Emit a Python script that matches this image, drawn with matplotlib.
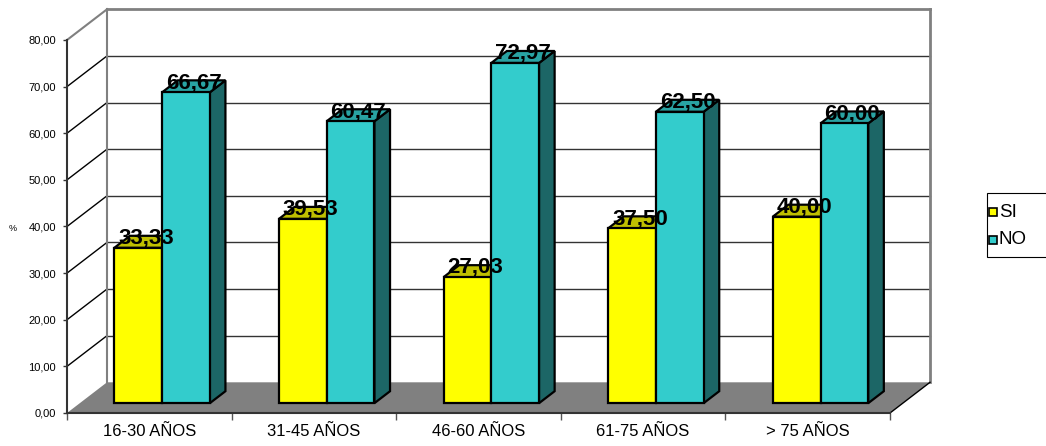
import matplotlib
matplotlib.use('Agg')
import matplotlib.pyplot as plt
from matplotlib.patches import Polygon, Rectangle

plt.rcParams['font.family'] = ['Liberation Sans', 'DejaVu Sans']

categories = ['16-30 AÑOS', '31-45 AÑOS', '46-60 AÑOS', '61-75 AÑOS', '> 75 AÑOS']
si = [33.33, 39.53, 27.03, 37.50, 40.00]
no = [66.67, 60.47, 72.97, 62.50, 60.00]
yticks = [0, 10, 20, 30, 40, 50, 60, 70, 80]

W, H = 1046, 446
fig = plt.figure(figsize=(W / 100, H / 100), dpi=100)
ax = fig.add_axes([67 / W, 33 / H, 823 / W, 373 / H])
ax.set_xlim(0, 5)
ax.set_ylim(0, 80)

# oblique depth vector in data units (40 px right, 30.7 px up)
DX = 40 / 164.6
DY = 30.7 / 4.6625
f = 0.32      # front of bars, fraction of depth
b = 0.39      # bar depth, fraction of depth
w = 0.29      # bar width

# back wall gridlines + left wall diagonals
for v in yticks[1:-1]:
    ax.plot([DX, 5 + DX], [v + DY, v + DY], color='#333333', lw=1, clip_on=False, zorder=1)
    ax.plot([0, DX], [v, v + DY], color='black', lw=1, clip_on=False, zorder=1)
ax.plot([DX, 5 + DX], [80 + DY, 80 + DY], color='#808080', lw=2, clip_on=False, zorder=1)
ax.plot([0, DX], [80, 80 + DY], color='#808080', lw=1.5, clip_on=False, zorder=1)
ax.plot([DX, DX], [DY, 80 + DY], color='#808080', lw=1.5, clip_on=False, zorder=1)
ax.plot([5 + DX, 5 + DX], [DY, 80 + DY], color='#808080', lw=2, clip_on=False, zorder=1)

# floor
ax.add_patch(Polygon([(0, 0), (5, 0), (5 + DX, DY), (DX, DY)], closed=True,
                     facecolor='#808080', edgecolor='none', clip_on=False, zorder=2))
ax.plot([5, 5 + DX], [0, DY], color='black', lw=1, clip_on=False, zorder=2)

def bar3d(x0, val, front, top, side):
    y0 = f * DY
    xs = x0 + f * DX
    bx, by = b * DX, b * DY
    ax.add_patch(Polygon([(xs + w, y0), (xs + w + bx, y0 + by), (xs + w + bx, y0 + val + by), (xs + w, y0 + val)],
                         closed=True, facecolor=side, edgecolor='black', lw=1.6, clip_on=False, zorder=3))
    ax.add_patch(Polygon([(xs, y0 + val), (xs + w, y0 + val), (xs + w + bx, y0 + val + by), (xs + bx, y0 + val + by)],
                         closed=True, facecolor=top, edgecolor='black', lw=1.6, clip_on=False, zorder=3))
    ax.bar(xs, val, width=w, bottom=y0, align='edge', color=front, edgecolor='black',
           linewidth=1.6, clip_on=False, zorder=3)
    lab = ('%.2f' % val).replace('.', ',')
    ax.text(xs + w / 2 + bx / 2, y0 + val + 0.9, lab, ha='center', va='baseline',
            fontsize=16, fontweight='bold', zorder=10, clip_on=False)

for i in range(len(categories)):
    bar3d(i + 0.5 - w, si[i], '#FFFF00', '#BFBF00', '#8C8C00')
    bar3d(i + 0.5, no[i], '#33CCCC', '#29A3A3', '#1C6666')

for s in ['top', 'right']:
    ax.spines[s].set_visible(False)
ax.spines['left'].set_color('#333333')
ax.spines['left'].set_linewidth(1.5)
ax.spines['bottom'].set_color('#333333')
ax.spines['bottom'].set_linewidth(1.5)
ax.spines['left'].set_zorder(4)
ax.spines['bottom'].set_zorder(4)

ax.set_yticks(yticks)
ax.set_yticklabels([('%.2f' % v).replace('.', ',') for v in yticks], fontsize=8)
ax.tick_params(axis='y', length=3, width=1, color='#333333', pad=5)
ax.set_xticks([0, 1, 2, 3, 4, 5])
ax.set_xticklabels([])
ax.tick_params(axis='x', which='major', length=5, width=1, color='#555555')
ax.set_xticks([0.5, 1.5, 2.5, 3.5, 4.5], minor=True)
ax.set_xticklabels(categories, minor=True, fontsize=12)
ax.tick_params(axis='x', which='minor', length=0, pad=8)
ax.patch.set_visible(False)

fig.text(13 / W, 1 - 228 / H, '%', fontsize=6.5, ha='center', va='center')

# legend
fig.patches.append(Rectangle((987 / W, 1 - 257 / H), 80 / W, 64 / H, transform=fig.transFigure,
                             facecolor='white', edgecolor='black', lw=0.8))
for yy, col, lab in [(212, '#FFFF00', 'SI'), (240, '#33CCCC', 'NO')]:
    fig.patches.append(Rectangle((989 / W, 1 - (yy + 4) / H), 8 / W, 8 / H, transform=fig.transFigure,
                                 facecolor=col, edgecolor='black', lw=1.2))
    fig.text(999 / W, 1 - yy / H, lab, fontsize=13.5, ha='left', va='center')

fig.savefig('out.png', dpi=100)
